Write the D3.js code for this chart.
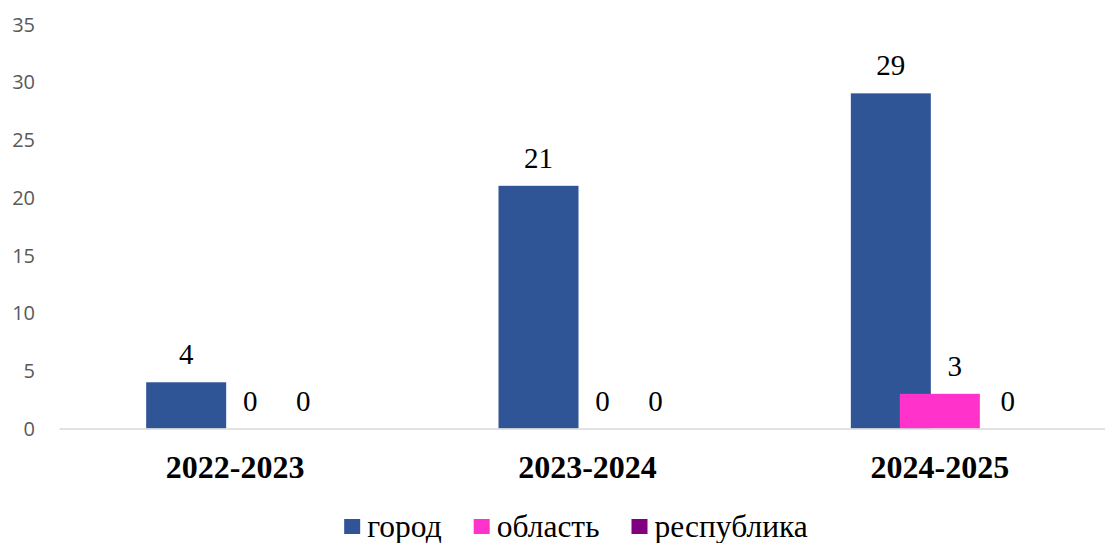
<!DOCTYPE html>
<html><head><meta charset="utf-8">
<script src="https://cdn.jsdelivr.net/npm/d3@7/dist/d3.min.js"></script>
<style>html,body{margin:0;padding:0;background:#fff;}svg{display:block;}</style>
</head><body>
<svg id="chart" width="1105" height="543"></svg>
<script>
const categories = ["2022-2023", "2023-2024", "2024-2025"];
const seriesNames = ["город", "область", "республика"];
const gorod = [4, 21, 29];
const oblast = [0, 0, 3];
const respublika = [0, 0, 0];
const yTicks = [0, 5, 10, 15, 20, 25, 30, 35];
const colors = ["#2F5597", "#FF33CC", "#800080"];
const seriesValues = [gorod, oblast, respublika];
const labelShift = [0, 15, 19];

const svg = d3.select("#chart");
const serif = "'Liberation Serif','Times New Roman',serif";

const x = d3.scaleBand().domain(categories).range([59, 1116]).paddingInner(0).paddingOuter(0);
const xs = d3.scalePoint().domain(seriesNames).range([-49, 49]);
const barW = 80;
const y = d3.scaleLinear().domain([0, 35]).range([428.5, 24]);

// y tick labels
const yAxis = d3.axisLeft(y).tickValues(yTicks).tickSize(0).tickPadding(0);
const yg = svg.append("g").attr("transform", "translate(35,0)").call(yAxis);
yg.select(".domain").remove();
yg.attr("font-size", 20).attr("font-family", "'Open Sans',sans-serif");
yg.selectAll("text").attr("font-family", "'Open Sans',sans-serif").attr("font-size", 20)
  .attr("fill", "#595959").attr("dy", "0.35em");

// bars
seriesNames.forEach((s, si) => {
  const vals = seriesValues[si];
  svg.append("g").selectAll("rect").data(categories).join("rect")
    .attr("x", (c) => x(c) + x.bandwidth() / 2 + xs(s) - barW / 2)
    .attr("width", barW)
    .attr("y", (c, i) => y(vals[i]))
    .attr("height", (c, i) => y(0) - y(vals[i]))
    .attr("fill", colors[si]);
});

// x axis line and labels
const xAxis = d3.axisBottom(x).tickSize(0).tickPadding(0);
const xg = svg.append("g").attr("transform", `translate(0,${y(0)})`).call(xAxis);
xg.attr("font-size", 32).attr("font-family", serif);
xg.select(".domain").attr("stroke", "#d9d9d9").attr("stroke-width", 1.6);
xg.selectAll("text").attr("font-family", serif).attr("font-size", 32).attr("font-weight", "bold")
  .attr("fill", "#000").attr("dy", null).attr("y", 49.5);

// data labels
seriesNames.forEach((s, si) => {
  const vals = seriesValues[si];
  svg.append("g").selectAll("text").data(categories).join("text")
    .attr("x", (c) => x(c) + x.bandwidth() / 2 + xs(s) + labelShift[si])
    .attr("y", (c, i) => y(vals[i]) - 18)
    .attr("text-anchor", "middle")
    .attr("font-family", serif).attr("font-size", 29).attr("fill", "#000")
    .text((c, i) => vals[i]);
});

// legend
const lg = svg.append("g");
let cx = 0;
seriesNames.forEach((s, si) => {
  const g = lg.append("g").attr("transform", `translate(${cx},0)`);
  g.append("rect").attr("x", 0).attr("y", 519).attr("width", 16).attr("height", 15).attr("fill", colors[si]);
  const t = g.append("text").attr("x", 23).attr("y", 537).attr("font-family", serif).attr("font-size", 31.5)
    .attr("fill", "#000").text(s);
  const w = t.node().getComputedTextLength();
  cx += 23 + w + 32;
});
const total = cx - 32;
lg.attr("transform", `translate(${576 - total / 2},0)`);
</script>
</body></html>
